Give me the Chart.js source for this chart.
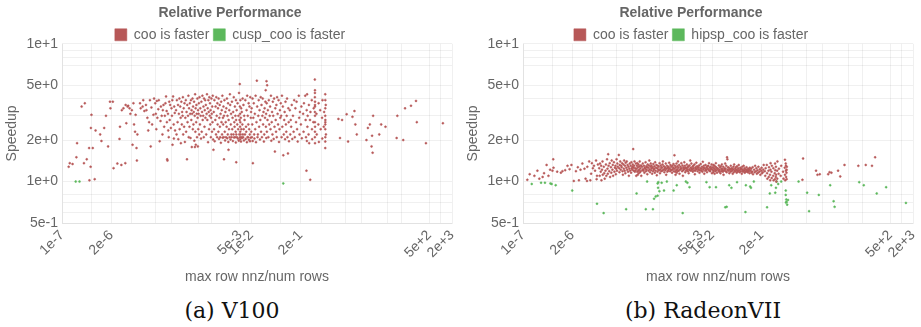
<!DOCTYPE html>
<html>
<head>
<meta charset="utf-8">
<title>Relative Performance</title>
<script src="https://cdn.jsdelivr.net/npm/chart.js@4.4.1/dist/chart.umd.min.js"></script>
<style>
  body { margin: 0; background: #fff; }
  .page { position: relative; width: 921px; height: 327px; }
  .panel { position: absolute; top: 0; width: 460px; height: 290px; }
  .caption { position: absolute; top: 300px; width: 240px; text-align: center;
             font: 22px "DejaVu Serif", serif; line-height: 22px; color: #111; }
</style>
</head>
<body>
<div class="page">
  <div class="panel" style="left:0"><canvas id="v100"></canvas></div>
  <div class="panel" style="left:461px"><canvas id="radeon"></canvas></div>
  <div class="caption" style="left:112px">(a) V100</div>
  <div class="caption" style="left:583px">(b) RadeonVII</div>
</div>
<script>
// axis ticks (log scales), only some of them carry a label
const xTicks = [1e-7, 6e-7, 2e-6, 7e-6, 3e-5, 8e-5, 4e-4, 9e-4, 5e-3, 1e-2, 6e-2, 2e-1, 7e-1, 3, 8, 40, 90, 500, 1000, 2000];
const xLabelled = [1e-7, 2e-6, 5e-3, 1e-2, 2e-1, 500, 2000];
const yTicks = [0.5, 0.6, 0.7, 0.8, 1, 2, 3, 4, 5, 7, 8, 9, 10];
const yLabelled = [0.5, 1, 2, 5, 10];

// V100: [max row nnz / num rows, speedup]
const v100Coo = [
  [1.5e-7,1.28],[1.6e-7,1.36],[1.9e-7,1.34],[2.4e-7,1.5],[2.5e-7,1.9],[3.3e-7,3.5],[4e-7,3.7],[3.8e-7,1.36],[4.5e-7,1.45],[5.2e-7,1.75],[5.7e-7,1.28],[5.8e-7,2.45],[6e-7,3.05],[6.5e-7,1.75],[5.3e-7,1.02],[7.3e-7,1.04],[7.7e-7,2.35],
  [1.02e-6,2.2],[1.1e-6,1.97],[1.3e-6,2.45],[1.45e-6,3.0],[1.65e-6,1.8],[1.85e-6,3.8],[2.2e-6,3.8],[1.9e-6,3.4],[2.3e-6,1.25],[2.9e-6,1.35],[3.3e-6,2.04],[3.4e-6,2.5],[3.7e-6,1.32],[3.8e-6,3.3],[4.2e-6,3.4],[4.7e-6,1.36],[4.8e-6,3.6],[5.4e-6,3.5],[5e-6,2.65],[6.4e-6,3.1],[7.3e-6,1.85],[8e-6,2.6],[8.5e-6,2.3],[9.5e-6,1.42],[9.8e-6,2.2],[9.3e-6,1.75],[5.6e-6,3.55],[6.1e-6,3.4],[7e-6,3.3],[7.7e-6,3.7],[8.8e-6,3.05],
  [1.15e-5,3.7],[1.35e-5,3.5],[1.5e-5,3.25],[1.65e-5,3.6],[1.9e-5,2.35],[2e-5,2.7],[1.8e-5,2.9],[2.3e-5,3.45],[2.6e-5,3.05],[2.9e-5,3.7],[3.2e-5,3.85],[3.5e-5,3.35],[4e-5,2.75],[3.8e-5,1.96],[4.3e-5,3.0],[4.8e-5,3.6],[5e-5,2.5],[5.6e-5,4.15],[5.8e-5,3.25],[6e-5,1.45],[6.4e-5,2.35],[6.8e-5,3.8],[7e-5,2.8],[7.8e-5,3.4],[8.3e-5,1.85],[8.6e-5,4.15],[8.9e-5,2.6],[9.5e-5,3.15],[9e-5,2.05],[6.1e-5,1.42],
  [1.2e-5,3.4],[1.4e-5,3.9],[1.7e-5,3.3],[2.1e-5,3.9],[2.4e-5,2.6],[2.7e-5,4.0],[3e-5,3.1],[3.3e-5,2.9],[3.6e-5,3.9],[4.1e-5,3.5],[4.5e-5,2.2],[5.2e-5,3.0],[5.4e-5,3.7],[6.3e-5,3.1],[6.6e-5,2.1],[7.2e-5,3.6],[7.5e-5,2.45],[8e-5,3.0],[8.2e-5,3.9],[9.2e-5,3.5],[9.7e-5,2.35],[4.6e-5,3.3],[2.2e-5,1.8],[3.1e-5,2.4],[5.9e-5,2.7],
  [1.03e-4,3.3],[1.06e-4,2.2],[1.08e-4,3.9],[1.13e-4,2.7],[1.16e-4,3.6],[1.18e-4,2.03],[1.22e-4,3.1],[1.26e-4,4.0],[1.28e-4,2.4],[1.33e-4,3.5],[1.36e-4,2.9],[1.38e-4,1.9],
  [1.42e-4,3.8],[1.46e-4,2.6],[1.49e-4,3.2],[1.53e-4,3.0],[1.56e-4,4.1],[1.59e-4,2.2],[1.64e-4,3.4],[1.68e-4,2.5],[1.72e-4,3.7],[1.76e-4,1.94],[1.81e-4,2.9],[1.86e-4,3.9],[1.9e-4,2.3],
  [1.95e-4,3.2],[2e-4,1.45],[2.03e-4,3.6],[2.07e-4,2.7],[2.13e-4,3.0],[2.18e-4,4.2],[2.22e-4,2.1],[2.27e-4,3.4],[2.33e-4,2.5],[2.38e-4,3.7],[2.43e-4,3.1],[2.48e-4,2.07],
  [2.54e-4,3.9],[2.6e-4,2.8],[2.64e-4,3.3],[2.68e-4,1.78],[2.74e-4,3.1],[2.8e-4,4.0],[2.85e-4,2.4],[2.9e-4,3.5],[2.96e-4,2.6],[3.02e-4,3.2],[3.08e-4,3.8],[3.13e-4,1.98],
  [3.2e-4,3.0],[3.24e-4,1.78],[3.28e-4,4.3],[3.33e-4,2.3],[3.38e-4,3.4],[3.42e-4,1.85],[3.5e-4,2.7],[3.56e-4,3.6],[3.62e-4,3.1],[3.68e-4,2.1],
  [3.76e-4,4.0],[3.82e-4,2.9],[3.88e-4,1.8],[3.93e-4,3.3],[3.98e-4,2.4],[4.05e-4,3.1],[4.12e-4,3.7],[4.2e-4,2.2],[4.28e-4,4.1],[4.4e-4,2.6],[4.5e-4,3.4],[4.6e-4,3.0],[4.7e-4,2.05],
  [4.8e-4,3.8],[4.9e-4,2.3],[5e-4,3.2],[5.1e-4,4.2],[5.2e-4,2.8],[5.35e-4,3.0],[5.45e-4,3.5],[5.55e-4,2.1],[5.65e-4,4.0],[5.8e-4,2.5],[5.9e-4,3.3],[6.05e-4,3.9],[6.15e-4,2.9],
  [6.3e-4,3.6],[6.45e-4,2.2],[6.6e-4,3.1],[6.75e-4,4.3],[6.9e-4,2.8],[7.05e-4,3.4],[7.2e-4,1.93],[7.35e-4,3.9],[7.5e-4,3.2],[7.65e-4,2.4],[7.8e-4,4.1],[7.95e-4,3.0],
  [8.1e-4,3.7],[8.25e-4,2.6],[8.4e-4,3.3],[8.55e-4,2.1],[8.7e-4,2.9],[8.85e-4,4.0],[9e-4,3.1],[9.15e-4,2.3],[9.3e-4,3.5],[9.45e-4,2.7],[9.6e-4,4.2],[9.8e-4,2.02],
  [1.02e-3,3.2],[1.04e-3,2.4],[1.06e-3,3.9],[1.08e-3,1.96],[1.0e-3,1.7],[1.12e-3,2.8],[1.14e-3,3.5],[1.17e-3,2.2],[1.19e-3,4.1],[1.22e-3,3.0],[1.25e-3,2.1],[1.27e-3,3.7],[1.29e-3,2.6],
  [1.32e-3,3.4],[1.35e-3,2.3],[1.37e-3,4.0],[1.4e-3,2.04],[1.43e-3,2.9],[1.46e-3,3.6],[1.48e-3,2.5],[1.51e-3,2.1],[1.54e-3,3.1],[1.57e-3,1.91],[1.6e-3,3.8],[1.63e-3,2.7],
  [1.66e-3,3.3],[1.69e-3,2.2],[1.72e-3,4.2],[1.75e-3,2.08],[1.78e-3,2.9],[1.81e-3,2.6],[1.84e-3,3.5],[1.87e-3,2.1],[1.9e-3,3.0],[1.9e-3,1.45],
  [1.95e-3,3.9],[1.99e-3,2.3],[2.03e-3,1.99],[2.07e-3,3.2],[2.11e-3,2.7],[2.15e-3,2.1],[2.19e-3,3.4],[2.23e-3,2.5],[2.27e-3,4.0],[2.31e-3,2.06],
  [2.35e-3,3.0],[2.39e-3,2.2],[2.43e-3,3.7],[2.47e-3,1.94],[2.5e-3,1.7],[2.52e-3,2.8],[2.57e-3,2.4],[2.62e-3,3.3],[2.67e-3,2.1],[2.72e-3,4.3],
  [2.77e-3,3.6],[2.82e-3,2.02],[2.87e-3,2.6],[2.92e-3,3.1],[2.97e-3,2.2],[3.02e-3,2.1],[3.08e-3,3.8],[3.14e-3,2.4],[3.2e-3,2.9],[3.26e-3,1.97],
  [3.32e-3,3.2],[3.38e-3,2.2],[3.44e-3,4.1],[3.5e-3,2.09],[3.56e-3,2.7],[3.62e-3,2.5],[3.68e-3,3.5],[3.74e-3,2.1],[3.8e-3,3.0],[3.86e-3,2.3],
  [3.9e-3,1.92],[3.93e-3,3.9],[3.97e-3,2.8],[4.0e-3,1.38],[4.02e-3,2.2],[4.1e-3,3.3],[4.18e-3,2.1],[4.26e-3,2.6],[4.34e-3,3.7],[4.42e-3,2.05],
  [4.5e-3,2.4],[4.58e-3,3.0],[4.66e-3,1.98],[4.74e-3,4.4],[4.82e-3,2.2],[4.9e-3,2.8],
  [4.96e-3,5.1],[5.0e-3,3.5],[5.02e-3,2.1],[5.04e-3,2.5],[5.06e-3,3.1],[5.08e-3,2.03],[5.1e-3,2.3],[5.12e-3,2.7],[5.14e-3,3.9],
  [5.22e-3,2.2],[5.28e-3,2.9],[5.34e-3,1.95],[5.4e-3,3.4],[5.46e-3,2.4],[5.52e-3,2.1],[5.6e-3,3.2],[5.7e-3,2.07],[5.8e-3,2.6],[5.9e-3,4.0],[6.0e-3,2.2],
  [6.1e-3,2.1],[6.2e-3,3.6],[6.3e-3,2.4],[6.4e-3,1.99],[6.5e-3,3.0],[6.65e-3,2.8],[6.8e-3,2.2],[6.95e-3,3.9],[7.1e-3,2.04],[7.25e-3,2.5],
  [7.35e-3,2.3],[7.5e-3,3.3],[7.65e-3,1.93],[7.8e-3,4.2],[7.95e-3,2.1],[8.05e-3,3.0],[8.2e-3,2.1],[8.35e-3,2.6],[8.5e-3,3.7],[8.65e-3,2.01],
  [8.8e-3,2.4],[8.95e-3,3.5],[9.1e-3,2.2],[9.25e-3,1.96],[9.4e-3,4.1],[9.55e-3,2.08],[9.7e-3,2.9],[9.85e-3,3.2],[9.95e-3,2.3],
  [1.02e-2,3.4],[1.04e-2,2.1],[1.06e-2,2.6],[1.08e-2,4.0],[1.09e-2,1.97],[1.1e-2,1.36],[1.13e-2,2.9],[1.16e-2,3.7],[1.19e-2,2.2],[1.21e-2,2.05],
  [1.24e-2,3.1],[1.27e-2,2.4],[1.3e-2,4.2],[1.33e-2,1.93],[1.37e-2,2.7],[1.4e-2,5.4],[1.43e-2,3.5],[1.46e-2,2.1],[1.49e-2,2.2],[1.53e-2,3.0],[1.57e-2,3.9],[1.61e-2,2.5],
  [1.65e-2,3.3],[1.69e-2,2.02],[1.73e-2,2.8],[1.77e-2,4.1],[1.81e-2,2.3],[1.86e-2,3.6],[1.91e-2,2.1],[1.96e-2,3.0],[2.0e-2,4.0],[2.05e-2,2.6],[2.1e-2,3.2],[2.15e-2,1.95],
  [2.2e-2,2.2],[2.25e-2,3.4],[2.3e-2,2.9],[2.35e-2,3.8],[2.4e-2,4.6],[2.43e-2,2.5],[2.46e-2,3.1],[2.49e-2,2.07],[2.52e-2,5.35],[2.55e-2,3.7],[2.58e-2,2.3],
  [2.62e-2,5.0],[2.68e-2,2.8],[2.74e-2,3.3],[2.82e-2,2.1],[2.9e-2,3.9],[2.98e-2,2.6],[3.06e-2,3.0],[3.14e-2,3.5],[3.22e-2,2.4],[3.3e-2,4.2],[3.38e-2,1.98],
  [3.46e-2,2.7],[3.54e-2,3.2],[3.62e-2,2.2],[3.7e-2,3.8],[3.8e-2,3.0],[3.9e-2,2.04],[4.0e-2,4.0],[4.1e-2,2.5],[4.2e-2,1.65],[4.3e-2,3.4],[4.4e-2,2.8],
  [4.5e-2,2.3],[4.6e-2,3.6],[4.7e-2,2.1],[4.8e-2,4.1],[4.95e-2,3.1],[5.1e-2,2.6],[5.25e-2,3.9],[5.4e-2,1.94],[5.55e-2,2.4],[5.7e-2,3.3],[5.85e-2,2.9],[6.0e-2,3.7],
  [6.15e-2,3.0],[6.3e-2,2.1],[6.45e-2,4.2],[6.6e-2,2.5],[6.8e-2,3.5],[7.0e-2,1.55],[7.2e-2,2.2],[7.4e-2,2.8],[7.6e-2,3.2],[7.8e-2,2.03],[8.0e-2,3.8],[8.2e-2,2.6],
  [8.4e-2,2.3],[8.6e-2,3.0],[8.8e-2,4.0],[9.0e-2,2.1],[9.3e-2,1.6],[9.5e-2,3.4],[9.7e-2,2.7],[9.9e-2,1.96],
  [1.04e-1,3.3],[1.07e-1,2.2],[1.1e-1,2.8],[1.13e-1,2.5],[1.17e-1,3.6],[1.21e-1,2.04],[1.26e-1,3.0],[1.31e-1,2.3],[1.36e-1,3.9],[1.41e-1,2.1],[1.46e-1,3.4],[1.52e-1,2.7],
  [1.57e-1,3.8],[1.62e-1,2.4],[1.68e-1,1.95],[1.8e-1,4.2],[1.84e-1,2.9],[1.88e-1,2.2],[1.92e-1,3.2],[2.04e-1,2.6],[2.1e-1,3.5],[2.16e-1,2.06],[2.34e-1,3.1],[2.4e-1,2.3],[2.46e-1,3.7],
  [2.66e-1,4.2],[2.72e-1,2.8],[2.78e-1,2.1],[2.86e-1,1.2],[2.9e-1,3.3],[2.94e-1,1.97],[2.98e-1,4.3],[3.03e-1,2.5],[3.08e-1,3.0],[3.26e-1,2.2],[3.32e-1,3.6],[3.38e-1,1.9],
  [3.6e-1,1.03],[3.55e-1,2.8],[3.65e-1,3.2],[3.95e-1,3.9],[4.0e-1,2.4],[4.05e-1,2.03],[4.35e-1,2.7],[4.45e-1,3.4],
  [4.76e-1,5.5],[4.8e-1,4.6],[4.78e-1,4.1],[4.82e-1,3.8],[4.8e-1,3.5],[4.77e-1,3.2],[4.81e-1,3.0],[4.79e-1,2.7],[4.83e-1,2.5],[4.8e-1,2.3],[4.78e-1,2.1],[4.82e-1,1.9],[4.79e-1,4.4],[4.81e-1,3.6],
  [5.25e-1,3.1],[5.35e-1,2.2],[5.9e-1,2.6],[6.0e-1,3.7],[6.1e-1,1.94],[6.6e-1,3.3],[6.8e-1,2.4],[7.4e-1,2.9],[7.5e-1,2.05],[7.6e-1,3.9],[8.2e-1,2.5],[8.4e-1,3.2],
  [8.98e-1,4.3],[9.02e-1,3.9],[9e-1,3.4],[8.97e-1,3.0],[9.03e-1,2.8],[9e-1,2.6],[8.99e-1,2.4],[9.01e-1,2.1],[9e-1,1.95],[8.98e-1,1.75],[9.02e-1,2.7],[9.25e-1,3.6],[9.35e-1,2.2],
  [2.0,2.85],[2.2,2.07],[2.5,2.8],[3.3,3.08],[3.6,1.95],[4.7,2.95],[5.3,3.25],[5.6,2.6],[6.1,2.2],[11,2.0],[12,2.45],[13.5,2.6],[15,1.8],[16,1.62],[16.5,3.0],[15.5,2.15],
  [24,2.2],[27,2.6],[35,2.5],[69,2.07],[72,3.0],[103,2.0],[115,3.4],[165,3.55],[224,3.85],[235,2.7],[410,1.9],[1150,2.65]
];
const v100CuspCoo = [[2.3e-7,1.0],[2.9e-7,1.0],[7e-2,0.97]];

// RadeonVII: [max row nnz / num rows, speedup]
const radeonCoo = [
  [1.3e-7,1.03],[1.5e-7,1.13],[2e-7,1.1],[2.4e-7,1.2],[2.7e-7,1.05],[3.3e-7,1.08],[3.6e-7,1.15],[4.2e-7,1.32],[4.7e-7,1.1],[5.2e-7,1.22],[6e-7,1.2],[6.3e-7,1.45],[6.4e-7,1.26],[8e-7,1.18],
  [1e-6,1.16],[1.1e-6,1.19],[1.3e-6,1.21],[1.5e-6,1.3],[1.7e-6,1.23],[1.9e-6,1.32],[2.2e-6,1.01],[2.5e-6,1.19],[2.8e-6,1.27],[3e-6,1.02],[3.3e-6,1.22],[3.7e-6,1.35],[4.2e-6,1.24],
  [4.5e-6,1.05],[4.9e-6,1.01],[5e-6,1.28],[5.6e-6,1.4],[6e-6,1.02],[6.3e-6,1.14],[6.6e-6,1.36],[7e-6,1.25],[7.5e-6,1.3],[8e-6,1.2],[8.5e-6,1.42],[8.8e-6,1.04],[9e-6,1.1],[9.5e-6,1.33],
  [1.03e-5,1.25],[1.06e-5,1.1],[1.08e-5,1.35],[1.13e-5,1.18],[1.16e-5,1.3],[1.18e-5,1.02],[1.22e-5,1.22],[1.26e-5,1.4],[1.28e-5,1.12],[1.36e-5,1.28],[1.4e-5,1.15],[1.44e-5,1.05],
  [1.51e-5,1.2],[1.55e-5,1.33],[1.59e-5,1.1],[1.66e-5,1.45],[1.7e-5,1.24],[1.74e-5,1.14],[1.78e-5,1.58],[1.82e-5,1.3],[1.9e-5,1.19],[1.95e-5,1.36],[2e-5,1.08],
  [2.1e-5,1.27],[2.15e-5,1.16],[2.2e-5,1.42],[2.3e-5,1.22],[2.35e-5,1.32],[2.4e-5,1.1],[2.52e-5,1.38],[2.6e-5,1.18],[2.68e-5,1.26],[2.76e-5,1.3],[2.83e-5,1.13],[2.9e-5,1.24],[2.96e-5,1.45],
  [3.03e-5,1.2],[3.1e-5,1.35],[3.18e-5,1.28],[3.4e-5,1.56],[3.46e-5,1.25],[3.52e-5,1.17],[3.58e-5,1.32],[3.7e-5,1.4],[3.8e-5,1.22],[3.9e-5,1.3],
  [4.05e-5,1.27],[4.15e-5,1.36],[4.25e-5,1.19],[4.35e-5,1.12],[4.5e-5,1.33],[4.6e-5,1.24],[4.7e-5,1.42],[4.85e-5,1.2],[4.95e-5,1.3],[5.05e-5,1.15],[5.15e-5,1.37],
  [5.35e-5,1.26],[5.5e-5,1.4],[5.65e-5,1.22],[5.8e-5,1.32],[5.95e-5,1.18],[6.1e-5,1.28],[6.25e-5,1.1],[6.45e-5,1.24],[6.6e-5,1.35],[6.75e-5,1.2],
  [7e-5,1.3],[7.15e-5,1.16],[7.3e-5,1.38],[7.45e-5,1.25],[7.65e-5,1.22],[7.8e-5,1.28],[7.95e-5,1.33],[8.15e-5,1.72],[8.25e-5,1.26],[8.4e-5,1.2],
  [8.6e-5,1.3],[8.8e-5,1.4],[9e-5,1.18],[9.2e-5,1.25],[9.4e-5,1.21],[9.6e-5,1.35],[9.8e-5,1.1],
  [1.01e-4,1.24],[1.02e-4,1.3],[1.04e-4,1.18],[1.05e-4,1.36],[1.07e-4,1.12],[1.09e-4,1.27],[1.11e-4,1.2],[1.12e-4,1.33],[1.14e-4,1.15],
  [1.17e-4,1.22],[1.19e-4,1.29],[1.21e-4,1.4],[1.23e-4,1.17],[1.26e-4,1.25],[1.28e-4,1.19],[1.31e-4,1.31],[1.33e-4,1.1],
  [1.39e-4,1.28],[1.42e-4,1.21],[1.46e-4,1.35],[1.49e-4,1.23],[1.53e-4,1.2],[1.57e-4,1.3],[1.61e-4,1.16],[1.65e-4,1.26],
  [1.69e-4,1.24],[1.73e-4,1.38],[1.77e-4,1.19],[1.81e-4,1.29],[1.84e-4,1.22],[1.88e-4,1.27],[1.92e-4,1.13],[1.96e-4,1.33],
  [2.02e-4,1.26],[2.07e-4,1.2],[2.12e-4,1.31],[2.17e-4,1.42],[2.22e-4,1.23],[2.27e-4,1.17],[2.32e-4,1.28],[2.37e-4,1.35],
  [2.42e-4,1.21],[2.47e-4,1.3],[2.53e-4,1.25],[2.58e-4,1.14],[2.65e-4,1.27],[2.72e-4,1.19],[2.78e-4,1.34],[2.84e-4,1.22],
  [2.9e-4,1.24],[2.96e-4,1.29],[3.03e-4,1.16],[3.1e-4,1.38],[3.18e-4,1.2],[3.26e-4,1.26],[3.34e-4,1.32],[3.42e-4,1.11],
  [3.5e-4,1.25],[3.58e-4,1.18],[3.66e-4,1.3],[3.74e-4,1.22],[3.85e-4,1.28],[3.95e-4,1.21],[4.05e-4,1.36],[4.15e-4,1.15],
  [4.25e-4,1.23],[4.35e-4,1.31],[4.45e-4,1.19],[4.55e-4,1.27],[4.65e-4,1.26],[4.75e-4,1.2],[4.85e-4,1.33],[4.95e-4,1.4],
  [5.1e-4,1.22],[5.25e-4,1.29],[5.4e-4,1.17],[5.55e-4,1.24],[5.65e-4,1.27],[5.75e-4,1.21],[5.9e-4,1.35],[6.05e-4,1.12],
  [6.2e-4,1.24],[6.35e-4,1.3],[6.5e-4,1.18],[6.65e-4,1.26],[6.8e-4,1.2],[6.95e-4,1.28],[7.1e-4,1.23],[7.25e-4,1.37],
  [7.45e-4,1.25],[7.65e-4,1.19],[7.85e-4,1.32],[8.05e-4,1.22],[8.25e-4,1.28],[8.45e-4,1.21],[8.65e-4,1.16],[8.85e-4,1.3],
  [9.05e-4,1.23],[9.25e-4,1.26],[9.45e-4,1.34],[9.65e-4,1.19],
  [1.0e-3,1.55],[1.01e-3,1.24],[1.03e-3,1.3],[1.05e-3,1.18],[1.07e-3,1.12],[1.09e-3,1.27],[1.11e-3,1.21],[1.13e-3,1.35],[1.15e-3,1.16],
  [1.18e-3,1.23],[1.2e-3,1.29],[1.22e-3,1.19],[1.24e-3,1.4],[1.27e-3,1.26],[1.3e-3,1.2],[1.33e-3,1.32],[1.36e-3,1.14],
  [1.4e-3,1.22],[1.44e-3,1.28],[1.48e-3,1.24],[1.52e-3,1.36],[1.55e-3,1.25],[1.59e-3,1.19],[1.63e-3,1.31],[1.67e-3,1.1],
  [1.7e-3,1.21],[1.74e-3,1.27],[1.78e-3,1.23],[1.82e-3,1.38],[1.85e-3,1.24],[1.89e-3,1.3],[1.93e-3,1.17],[1.97e-3,1.26],
  [2.03e-3,1.2],[2.08e-3,1.25],[2.13e-3,1.33],[2.18e-3,1.22],[2.23e-3,1.27],[2.28e-3,1.19],[2.33e-3,1.29],[2.38e-3,1.15],
  [2.44e-3,1.23],[2.5e-3,1.31],[2.56e-3,1.21],[2.62e-3,1.42],[2.68e-3,1.26],[2.74e-3,1.2],[2.8e-3,1.35],[2.86e-3,1.24],
  [2.93e-3,1.22],[3e-3,1.28],[3.07e-3,1.18],[3.14e-3,1.3],[3.22e-3,1.25],[3.3e-3,1.21],[3.38e-3,1.33],[3.46e-3,1.13],
  [3.54e-3,1.2],[3.62e-3,1.27],[3.7e-3,1.24],[3.78e-3,1.37],[3.88e-3,1.23],[3.98e-3,1.29],[4.08e-3,1.19],[4.18e-3,1.26],
  [4.28e-3,1.27],[4.38e-3,1.22],[4.48e-3,1.31],[4.58e-3,1.16],[4.7e-3,1.21],[4.82e-3,1.25],[4.94e-3,1.34],[5.06e-3,1.2],
  [5.2e-3,1.24],[5.34e-3,1.28],[5.48e-3,1.18],[5.62e-3,1.39],[5.72e-3,1.22],[5.86e-3,1.26],[6e-3,1.3],[6.14e-3,1.14],
  [6.3e-3,1.25],[6.46e-3,1.2],[6.62e-3,1.32],[6.78e-3,1.23],[6.92e-3,1.21],[7.08e-3,1.27],[7.24e-3,1.17],[7.4e-3,1.29],
  [7.6e-3,1.24],[7.8e-3,1.3],[8e-3,1.22],[8.2e-3,1.36],[8.4e-3,1.2],[8.6e-3,1.26],[8.8e-3,1.19],[9e-3,1.28],
  [9.2e-3,1.23],[9.4e-3,1.25],[9.6e-3,1.33],[9.8e-3,1.15],
  [1.01e-2,1.22],[1.03e-2,1.27],[1.05e-2,1.17],[1.07e-2,1.32],[1.09e-2,1.2],[1.11e-2,1.25],[1.13e-2,1.3],[1.15e-2,1.14],
  [1.18e-2,1.23],[1.2e-2,1.19],[1.22e-2,1.28],[1.24e-2,1.36],[1.27e-2,1.21],[1.3e-2,1.26],[1.33e-2,1.16],[1.36e-2,1.24],
  [1.41e-2,1.24],[1.45e-2,1.2],[1.49e-2,1.31],[1.53e-2,1.18],[1.56e-2,1.22],[1.6e-2,1.27],[1.64e-2,1.15],[1.68e-2,1.29],
  [1.71e-2,1.19],[1.75e-2,1.24],[1.79e-2,1.33],[1.83e-2,1.21],[1.86e-2,1.23],[1.9e-2,1.18],[1.94e-2,1.28],[1.98e-2,1.12],
  [2.04e-2,1.2],[2.09e-2,1.25],[2.14e-2,1.22],[2.19e-2,1.35],[2.24e-2,1.24],[2.29e-2,1.19],[2.34e-2,1.3],[2.39e-2,1.17],
  [2.45e-2,1.5],[2.5e-2,1.45],[2.55e-2,1.22],[2.6e-2,1.27],[2.67e-2,1.2],[2.74e-2,1.26],[2.81e-2,1.15],[2.88e-2,1.23],
  [2.94e-2,1.22],[3.01e-2,1.18],[3.08e-2,1.3],[3.15e-2,1.24],[3.22e-2,1.19],[3.3e-2,1.25],[3.38e-2,1.21],[3.46e-2,1.14],
  [3.54e-2,1.23],[3.62e-2,1.28],[3.7e-2,1.17],[3.78e-2,1.33],[3.9e-2,1.2],[4e-2,1.24],[4.1e-2,1.19],[4.2e-2,1.27],
  [4.3e-2,1.22],[4.4e-2,1.16],[4.5e-2,1.29],[4.6e-2,1.21],[4.7e-2,1.18],[4.8e-2,1.25],[4.9e-2,1.2],[5e-2,1.32],
  [5.15e-2,1.21],[5.3e-2,1.17],[5.45e-2,1.26],[5.6e-2,1.23],[5.7e-2,1.19],[5.85e-2,1.24],[6e-2,1.14],[6.15e-2,1.28],
  [6.3e-2,1.22],[6.45e-2,1.18],[6.6e-2,1.2],[6.75e-2,1.3],[6.9e-2,1.2],[7.05e-2,1.25],[7.2e-2,1.16],[7.35e-2,1.23],
  [7.6e-2,1.18],[7.8e-2,1.22],[8e-2,1.27],[8.2e-2,1.19],[8.4e-2,1.21],[8.6e-2,1.17],[8.8e-2,1.24],[9e-2,1.2],
  [9.2e-2,1.19],[9.4e-2,1.23],[9.6e-2,1.15],[9.8e-2,1.26],
  [1.03e-1,1.2],[1.06e-1,1.24],[1.09e-1,1.16],[1.13e-1,1.18],[1.16e-1,1.27],[1.19e-1,1.13],[1.27e-1,1.22],[1.31e-1,1.17],[1.35e-1,1.3],
  [1.42e-1,1.19],[1.46e-1,1.25],[1.5e-1,1.14],[1.57e-1,1.21],[1.61e-1,1.16],[1.65e-1,1.28],[1.76e-1,1.18],[1.81e-1,1.23],[1.86e-1,1.12],
  [1.96e-1,1.2],[2.01e-1,1.26],[2.06e-1,1.15],[2.16e-1,1.17],[2.22e-1,1.22],[2.28e-1,1.32],[2.44e-1,1.19],[2.5e-1,1.1],[2.56e-1,1.25],
  [2.75e-1,1.32],[2.8e-1,1.15],[2.85e-1,1.05],[3.05e-1,1.2],[3.1e-1,1.08],[3.15e-1,1.27],[3.34e-1,1.12],[3.38e-1,1.02],[3.42e-1,1.22],[3.46e-1,1.36],
  [3.65e-1,1.18],[3.7e-1,1.06],[3.75e-1,1.3],[4.05e-1,1.1],[4.1e-1,1.25],[4.15e-1,1.02],[4.45e-1,1.15],[4.5e-1,1.04],[4.55e-1,1.35],[4.6e-1,1.21],
  [4.75e-1,1.08],[4.8e-1,1.28],[4.85e-1,1.12],[4.9e-1,1.0],[5.15e-1,1.2],[5.2e-1,1.05],[5.25e-1,1.4],[5.65e-1,1.14],[5.75e-1,1.24],
  [6.4e-1,1.1],[6.6e-1,1.3],[7.4e-1,1.18],[7.6e-1,1.05],[8.2e-1,1.26],[8.3e-1,1.12],[8.4e-1,1.02],[8.3e-1,1.44],
  [8.7e-1,1.35],[8.8e-1,1.2],[8.9e-1,1.08],[8.8e-1,1.3],[9.1e-1,1.16],[9.2e-1,1.04],[9.3e-1,1.28],[9.2e-1,1.22],
  [2.4,1.03],[2.5,1.47],[5.5,1.2],[6,1.12],[6.9,1.13],[11.5,1.13],[12.5,1.17],[14,1.16],[21,1.2],[24,1.09],[31,1.32],[72,1.3],[113,1.32],[165,1.3],[200,1.5]
];
const radeonHipspCoo = [
  [1.7e-7,0.96],[3e-7,0.98],[3.8e-7,0.98],[5.3e-7,0.97],[5.7e-7,0.96],[7.3e-7,0.94],[2e-6,0.86],[9e-6,0.69],[1.35e-5,0.59],[5.3e-5,0.63],
  [1e-4,0.82],[1.75e-4,0.63],[1.9e-4,1.0],[2.7e-4,0.63],[2.9e-4,0.75],[3.2e-4,0.78],[3.6e-4,0.79],[3.7e-4,0.9],[3.6e-4,0.97],[4e-4,0.85],[3.75e-4,0.99],
  [4.6e-4,0.98],[5.3e-4,0.86],[6.3e-4,1.0],[9.5e-4,0.86],[1.15e-3,0.94],[1.65e-3,0.59],[2e-3,1.0],[2.2e-3,0.98],[2.5e-3,0.91],[7e-3,0.99],[8.5e-3,0.91],
  [1.25e-2,0.91],[2.2e-2,0.65],[2.4e-2,0.655],[2.8e-2,0.94],[3.2e-2,0.9],[4.5e-2,0.99],[7.5e-2,0.6],[7.7e-2,0.94],[1e-1,0.92],[1.05e-1,0.9],[1.25e-1,1.0],
  [2.8e-1,0.65],[3.3e-1,0.82],[3.6e-1,0.94],[4.6e-1,0.83],[4.8e-1,0.9],[5e-1,1.0],[5.5e-1,0.96],[6.6e-1,1.0],[8.7e-1,0.86],[8.7e-1,0.8],[9e-1,0.74],
  [9.2e-1,0.71],[9.5e-1,0.68],[1.0,0.735],[8.8e-1,0.705],[1.9,1.0],[3.2,0.83],[3.6,0.61],[6.5,0.8],[13,0.94],[16,0.72],[17,0.655],[76,0.99],[100,0.94],[220,0.82],[390,0.91],[1300,0.7]
];

const RED = 'rgb(183, 88, 88)';
const GREEN = 'rgb(92, 184, 92)';
const GRID = 'rgba(0, 0, 0, 0.06)';

Chart.defaults.font.family = "'Liberation Sans', Arial, sans-serif";
Chart.defaults.color = '#666';

// legend row of a fixed height, so the plot starts right under it
const compactLegend = {
  id: 'compactLegend',
  afterInit(chart) {
    const legend = chart.legend;
    const fit = legend.fit;
    legend.fit = function () {
      fit.call(this);
      this.height = 20;
    };
  }
};

function toPoints(rows) {
  return rows.map(r => ({ x: r[0], y: r[1] }));
}

function logAxis(ticks, labelled, title, extra) {
  return Object.assign({
    type: 'logarithmic',
    afterBuildTicks: scale => { scale.ticks = ticks.map(v => ({ value: v })); },
    ticks: {
      autoSkip: false,
      font: { size: 14 },
      padding: 4,
      callback: value => labelled.includes(value) ? value.toExponential() : ''
    },
    grid: { color: GRID, drawTicks: false },
    border: { color: GRID },
    title: { display: true, text: title, font: { size: 14 } }
  }, extra);
}

function drawPanel(id, cooRows, otherRows, otherName) {
  new Chart(document.getElementById(id), {
    type: 'scatter',
    data: {
      datasets: [
        { label: 'coo is faster', data: toPoints(cooRows), backgroundColor: RED, borderColor: RED },
        { label: otherName + ' is faster', data: toPoints(otherRows), backgroundColor: GREEN, borderColor: GREEN }
      ]
    },
    plugins: [compactLegend],
    options: {
      responsive: true,
      maintainAspectRatio: false,
      animation: false,
      elements: { point: { radius: 1, borderWidth: 0.5, hoverRadius: 2 } },
      plugins: {
        title: {
          display: true,
          text: 'Relative Performance',
          font: { size: 14, weight: 'bold' },
          padding: { top: 5, bottom: 2 }
        },
        legend: {
          labels: { boxWidth: 12, boxHeight: 12, font: { size: 14 }, padding: 4 }
        },
        tooltip: { enabled: false }
      },
      scales: {
        x: logAxis(xTicks, xLabelled, 'max row nnz/num rows', {
          min: 1e-7, max: 2000,
          ticks: {
            autoSkip: false, font: { size: 14 }, padding: 4, minRotation: 45, maxRotation: 45,
            callback: value => xLabelled.includes(value) ? value.toExponential() : ''
          },
          // keep the plot flush with the y axis and 8px off the right edge
          afterFit: scale => { scale.paddingLeft = 0; scale.paddingRight = 8; }
        }),
        y: logAxis(yTicks, yLabelled, 'Speedup', {
          min: 0.5, max: 10,
          afterFit: scale => { scale.width = 62; }
        })
      }
    }
  });
}

drawPanel('v100', v100Coo, v100CuspCoo, 'cusp_coo');
drawPanel('radeon', radeonCoo, radeonHipspCoo, 'hipsp_coo');
</script>
</body>
</html>
